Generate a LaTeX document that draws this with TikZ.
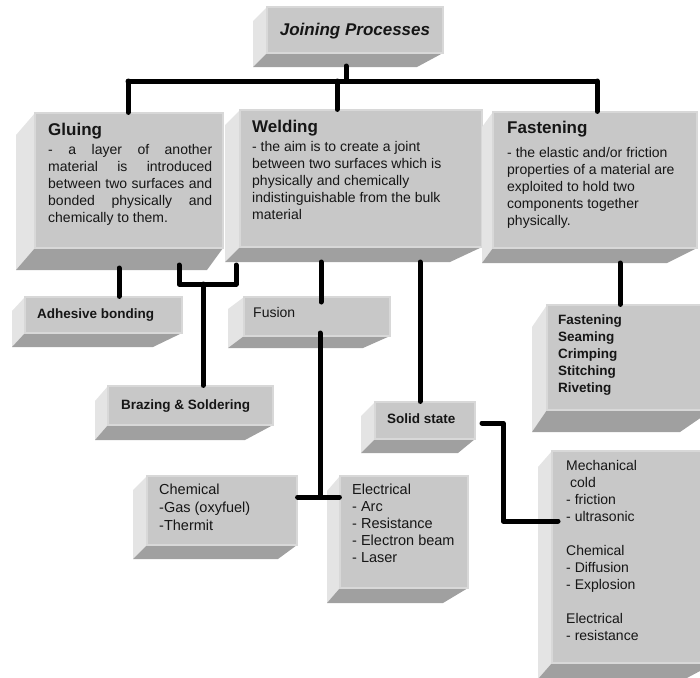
\documentclass[tikz,border=0pt]{standalone}
\usepackage{fontspec}
\setmainfont{Liberation Sans}
\usetikzlibrary{fit}
\definecolor{frontc}{RGB}{200,200,200}
\definecolor{leftc}{RGB}{228,228,228}
\definecolor{botc}{RGB}{160,160,160}
\definecolor{edgec}{RGB}{216,216,216}
\definecolor{txtc}{RGB}{22,22,22}
\tikzset{
  conn/.style={line width=5pt, line cap=round, line join=round, black},
  leftface/.style={fill=leftc},
  botface/.style={fill=botc},
  frontface/.style={fill=frontc, draw=edgec, line width=1.2pt, inner sep=0pt},
  ttl/.style={anchor=base west, inner sep=0pt, text=txtc, font=\fontsize{17}{20}\selectfont\bfseries},
  bodytxt/.style={anchor=base west, inner sep=0pt, text=txtc, font=\fontsize{14}{17}\selectfont},
  lbl/.style={anchor=base west, inner sep=0pt, text=txtc, font=\fontsize{13.5}{17}\selectfont\bfseries},
}
% #1 name, #2 x0, #3 y0, #4 x1, #5 y1, #6 dx, #7 dy, #8 bottom-right shift
\newcommand\tdbox[8]{%
  \fill[leftface] (#2,#3) -- (#2-#6,#3+#7) -- (#2-#6,#5+#7) -- (#2,#5) -- cycle;
  \fill[botface] (#2,#5) -- (#4,#5) -- (#4-#8,#5+#7) -- (#2-#6,#5+#7) -- cycle;
  \coordinate (#1-nw) at (#2,#3);
  \coordinate (#1-se) at (#4,#5);
  \node[frontface, fit=(#1-nw)(#1-se)] (#1) {};
}
\begin{document}
\begin{tikzpicture}[x=1pt,y=-1pt]
\useasboundingbox (0,0) rectangle (700,677);
\clip (0,0) rectangle (700,677);

% boxes
\tdbox{jp}{267}{7}{443}{53}{14}{14}{26}
\tdbox{glu}{35}{113}{223}{248}{19}{22}{16}
\tdbox{wel}{240}{110}{482}{247}{15}{15}{32}
\tdbox{fas}{493}{112}{697}{248}{11}{15}{30}
\tdbox{adh}{25}{297}{182}{333}{13}{14}{29}
\tdbox{fus}{244}{297}{390}{336}{16}{12}{27}
\tdbox{bra}{108}{386}{273}{425}{13}{15}{28}
\tdbox{sol}{375}{402}{475}{439}{14}{14}{17}
\tdbox{fal}{547}{305}{712}{410}{15}{22}{32}
\tdbox{che}{147}{476}{297}{545}{14}{14}{19}
\tdbox{ele}{340}{476}{468}{588}{13}{15}{25}
\tdbox{mec}{552}{451}{715}{663}{14}{16}{30}

% connectors
\coordinate (jpD) at (346,66);
\coordinate (busM) at (346,81);
\coordinate (busL) at (128,81);
\coordinate (busR) at (597,81);
\coordinate (busW) at (337,81);
\draw[conn] (jpD) -- (busM);
\draw[conn] (busL) -- (busR);
\draw[conn] (busL) -- (busL |- glu.north);
\draw[conn] (busW) -- (busW |- wel.north);
\draw[conn] (busR) -- (busR |- fas.north);

\coordinate (gA) at (119,268);
\draw[conn] (gA) -- (gA |- adh.north);
\coordinate (gB) at (179,265);
\coordinate (wB) at (236,265);
\coordinate (brJ) at (203,284);
\draw[conn] (gB) |- (brJ) -| (wB);
\draw[conn] (brJ) -- (brJ |- bra.north);

\coordinate (wF) at (321,262);
\coordinate (fusIn) at (321,302);
\draw[conn] (wF) -- (fusIn);
\coordinate (fT) at (320,333);
\coordinate (tJ) at (320,497);
\draw[conn] (fT) -- (tJ);
\draw[conn] (che.east |- tJ) -- (ele.west |- tJ);

\coordinate (wS) at (420,262);
\draw[conn] (wS) -- (wS |- sol.north);
\coordinate (fL) at (620,263);
\draw[conn] (fL) -- (fL |- fal.north);
\coordinate (sM) at (482,423);
\coordinate (sM2) at (503,521);
\coordinate (mIn) at (558,521);
\draw[conn] (sM) -| (sM2) -- (mIn);

% texts
\node[anchor=base, inner sep=0pt, text=txtc, font=\fontsize{17}{20}\selectfont\bfseries\itshape] (jpt) at (355,35) {Joining Processes};

\node[ttl] (glut) at (48,135) {Gluing};
\node[bodytxt] (glub) at (48,154) {\parbox[t]{170pt}{%
\makebox[164pt][s]{- a layer of another}\\
\makebox[164pt][s]{material is introduced}\\
\makebox[164pt][s]{between two surfaces and}\\
\makebox[164pt][s]{bonded physically and}\\
chemically to them.}};

\node[ttl] (welt) at (252,132) {Welding};
\node[bodytxt] (welb) at (252,151) {\parbox[t]{225pt}{%
- the aim is to create a joint\\
between two surfaces which is\\
physically and chemically\\
indistinguishable from the bulk\\
material}};

\node[ttl] (fast) at (507,133) {Fastening};
\node[bodytxt] (fasb) at (507,157) {\parbox[t]{190pt}{%
- the elastic and/or friction\\
properties of a material are\\
exploited to hold two\\
components together\\
physically.}};

\node[lbl] (adht) at (37,318) {Adhesive bonding};
\node[bodytxt] (fust) at (253,317) {Fusion};
\node[lbl] (brat) at (121,409) {Brazing \& Soldering};
\node[lbl] (solt) at (387,423) {Solid state};

\node[lbl] (falt) at (558,324) {\parbox[t]{130pt}{%
Fastening\\ Seaming\\ Crimping\\ Stitching\\ Riveting}};

\node[bodytxt, font=\fontsize{14.5}{18}\selectfont] (chet) at (159,494) {\parbox[t]{130pt}{%
Chemical\\ -Gas (oxyfuel)\\ -Thermit}};

\node[bodytxt, font=\fontsize{14.5}{17}\selectfont] (elet) at (352,494) {\parbox[t]{115pt}{%
Electrical\\ - Arc\\ - Resistance\\ - Electron beam\\ - Laser}};

\node[bodytxt] (mect) at (566,470) {\parbox[t]{130pt}{%
Mechanical\\ \hspace*{4pt}cold\\ - friction\\ - ultrasonic\\[17pt]
Chemical\\ - Diffusion\\ - Explosion\\[17pt]
Electrical\\ - resistance}};
\end{tikzpicture}
\end{document}
